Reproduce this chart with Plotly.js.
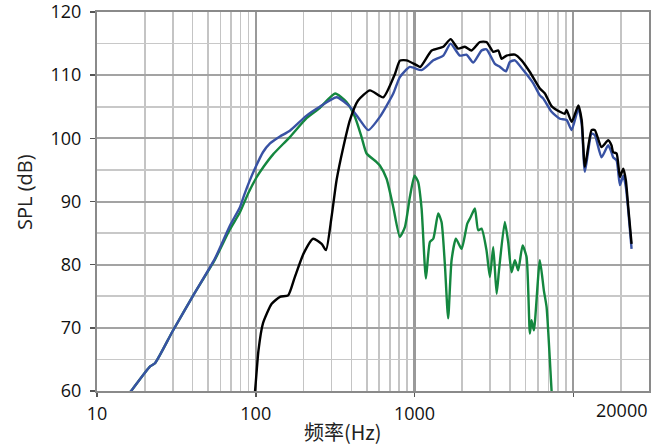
<!DOCTYPE html>
<html>
<head>
<meta charset="utf-8">
<script src="https://cdn.plot.ly/plotly-3.0.1.min.js"></script>
<style>
html,body{margin:0;padding:0;background:#fff;}
#chart{width:651px;height:446px;}
</style>
</head>
<body>
<div id="chart"></div>
<script>
// ---- data ----
var blackFreq = [97, 99, 104, 111, 126, 142, 160, 176, 200, 230, 260, 277, 300, 323, 356, 392, 441, 524, 635, 753, 809, 891, 1030, 1087, 1283, 1518, 1688, 1884, 2075, 2286, 2580, 2840, 3133, 3370, 3535, 3800, 4290, 4725, 5330, 6160, 6630, 7300, 8240, 8850, 9080, 9770, 10770, 11300, 11840, 13040, 13680, 15070, 16600, 17400, 17850, 18750, 19680, 20650, 21450, 22200, 23300];
var blackSpl = [58, 60, 66.4, 70.7, 73.8, 74.9, 75.15, 78.0, 81.75, 84.1, 83.3, 82.3, 87.5, 93.4, 98.6, 102.9, 106.0, 107.6, 106.5, 110.2, 112.3, 112.35, 111.6, 111.3, 113.9, 114.5, 115.7, 114.2, 114.5, 113.9, 115.25, 115.25, 113.7, 113.9, 112.6, 113.1, 113.25, 112.35, 110.5, 107.9, 107.1, 105.1, 104.2, 103.9, 104.5, 102.6, 105.2, 102.9, 95.5, 101.3, 101.3, 98.6, 99.7, 98.9, 97.8, 97.6, 93.9, 95.2, 93.35, 89.1, 83.3];

var blueFreq = [15.8, 16.4, 21.6, 23.2, 30, 40.4, 55.3, 68.8, 79.5, 85.3, 91.6, 100, 111, 123, 142, 164, 209, 253, 323, 392, 453, 511, 605, 735, 809, 935, 1108, 1313, 1518, 1688, 1930, 2125, 2345, 2645, 2840, 3210, 3460, 3765, 3990, 4290, 4840, 5600, 6160, 6470, 7300, 8240, 9080, 9770, 10770, 11300, 11840, 13040, 13680, 15070, 16600, 17400, 17850, 18750, 19680, 20650, 21450, 22200, 23300];
var blueSpl = [59.5, 60, 63.9, 64.4, 69.5, 75.15, 80.96, 86.2, 89.1, 91.3, 93.3, 95.5, 97.8, 99.2, 100.3, 101.2, 103.6, 105.0, 106.5, 105.0, 102.9, 101.3, 103.4, 107.1, 109.7, 111.3, 110.8, 112.35, 113.1, 115.0, 113.1, 113.25, 112.0, 113.9, 114.1, 111.8, 111.3, 110.6, 112.1, 112.35, 110.8, 108.7, 106.8, 106.3, 104.2, 103.1, 102.9, 101.3, 104.7, 102.3, 94.7, 100.75, 100.5, 97.0, 98.9, 97.8, 97.0, 96.5, 92.6, 94.1, 92.3, 88.6, 82.5];

var greenFreq = [15.8, 16.4, 21.6, 23.2, 30, 40.4, 55.3, 68.8, 79.5, 90, 101, 112, 129, 164, 209, 253, 316, 373, 421, 464, 499, 577, 605, 667, 735, 809, 871, 935, 1000, 1054, 1108, 1180, 1250, 1313, 1410, 1480, 1552, 1629, 1712, 1823, 1980, 2150, 2255, 2400, 2520, 2645, 2840, 2985, 3133, 3290, 3415, 3705, 3890, 4085, 4290, 4500, 4795, 5080, 5330, 5460, 5650, 6160, 6530, 6790, 7300, 7400];
var greenSpl = [59.5, 60, 63.9, 64.4, 69.5, 75.15, 80.8, 85.6, 88.3, 91.4, 93.8, 95.5, 97.5, 100.2, 103.2, 104.8, 107.1, 105.75, 103.4, 100.2, 97.6, 96.25, 95.7, 93.6, 89.1, 84.4, 86.0, 90.7, 94.1, 93.1, 88.9, 77.8, 83.6, 84.1, 88.1, 86.75, 80.2, 71.5, 80.7, 84.1, 82.5, 86.5, 87.5, 88.9, 85.45, 85.7, 82.3, 78.05, 82.8, 75.4, 79.4, 86.75, 83.6, 78.8, 80.7, 79.1, 83.05, 81.2, 69.1, 71.2, 69.6, 80.7, 75.9, 73.3, 60.1, 58];

var xTickVals = [10, 100, 1000, 10000];
var xTickText = ['10', '100', '1000', ''];
var xExtraTickVals = [20000];
var xExtraTickText = ['20000'];
var xMinorVals = [20,30,40,50,60,70,80,90,200,300,400,500,600,700,800,900,2000,3000,4000,5000,6000,7000,8000,9000,20000,30000];
var yTickVals = [60, 70, 80, 90, 100, 110, 120];
var xTitle = '频率(Hz)';
var yTitle = 'SPL (dB)';

// ---- chart ----
function mk(x, y, color, name) {
  return {x: x, y: y, name: name, type: 'scatter', mode: 'lines', hoverinfo: 'skip', showlegend: false,
          line: {shape: 'spline', smoothing: 0.55, width: 2.4, color: color}};
}
var traces = [
  mk(greenFreq, greenSpl, '#14873f', 'green'),
  mk(blueFreq, blueSpl, '#3852a4', 'blue'),
  mk(blackFreq, blackSpl, '#000000', 'black')
];

var tickFont = {family: '"Open Sans", "Noto Sans", sans-serif', size: 18, color: '#111'};
var xRange = [1, Math.log10(30000)];

var extraAnn = xExtraTickVals.map(function (v, i) {
  return {text: xExtraTickText[i], xref: 'x', yref: 'paper', x: Math.log10(v), y: 0,
          xanchor: 'center', yanchor: 'top', yshift: -5, showarrow: false, font: tickFont};
});

var layout = {
  width: 651, height: 446,
  margin: {l: 97, r: 2, t: 12, b: 55},
  paper_bgcolor: '#fff', plot_bgcolor: '#fff',
  xaxis: {
    type: 'log', range: xRange,
    tickmode: 'array', tickvals: xTickVals, ticktext: xTickText,
    ticks: 'outside', ticklen: 4, tickwidth: 1.5, tickcolor: '#555',
    showgrid: true, gridcolor: '#9a9a9a', gridwidth: 2.2,
    minor: {tickmode: 'array', tickvals: xMinorVals, showgrid: true, gridcolor: '#c4c4c4', gridwidth: 1.6, ticks: ''},
    showline: true, linecolor: '#8a8a8a', linewidth: 2, mirror: true,
    zeroline: false, tickfont: tickFont, ticklabelstandoff: 1, ticklabeloverflow: 'allow'
  },
  yaxis: {
    range: [60, 120],
    tickmode: 'array', tickvals: yTickVals,
    ticks: 'outside', ticklen: 5, tickwidth: 1.5, tickcolor: '#555',
    showgrid: true, gridcolor: '#a3a3a3', gridwidth: 2,
    minor: {dtick: 5, showgrid: true, gridcolor: '#c8c8c8', gridwidth: 1.6, ticks: ''},
    showline: true, linecolor: '#8a8a8a', linewidth: 2, mirror: true,
    zeroline: false, tickfont: tickFont, ticklabelstandoff: 5, ticklabeloverflow: 'allow'
  },
  annotations: extraAnn.concat([
    {text: xTitle, xref: 'paper', yref: 'paper', x: (343 - 97) / 552, y: -(431 - 391) / 379, xanchor: 'center', yanchor: 'middle', showarrow: false,
     font: {family: '"Noto Sans CJK SC", "Open Sans", sans-serif', size: 20, color: '#222'}},
    {text: yTitle, xref: 'paper', yref: 'paper', x: (24 - 97) / 552, y: (391 - 192) / 379, xanchor: 'center', yanchor: 'middle', textangle: -90, showarrow: false,
     font: {family: '"Open Sans", "Noto Sans", sans-serif', size: 20, color: '#222'}}
  ])
};

Plotly.newPlot('chart', traces, layout, {staticPlot: true, displayModeBar: false});
</script>
</body>
</html>
